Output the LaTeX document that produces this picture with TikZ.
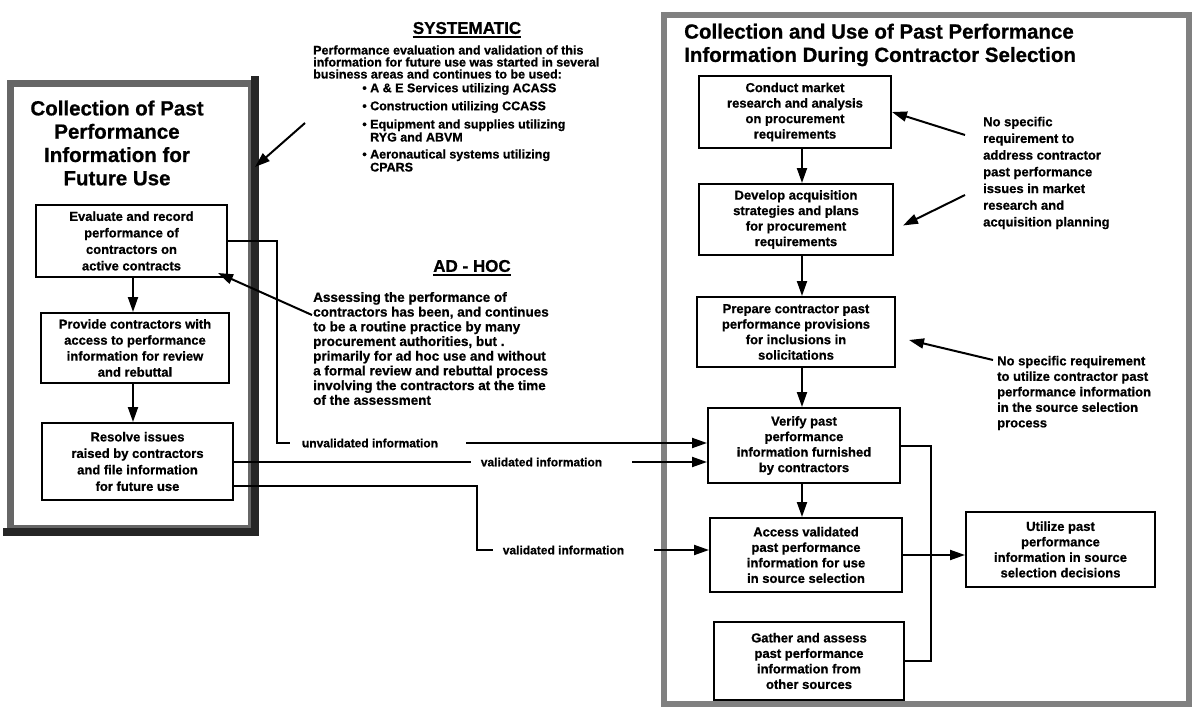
\documentclass[tikz,border=0pt]{standalone}
\usepackage{fontspec}
\setmainfont{Liberation Sans}[BoldFeatures={FakeBold=0.8}]
\usetikzlibrary{arrows.meta,calc}

\begin{document}
\begin{tikzpicture}[x=1pt,y=-1pt,
  every node/.style={font=\bfseries},
  box/.style={draw, line width=2pt, align=center, inner sep=0pt,
    font=\fontsize{13}{15.5}\selectfont\bfseries},
  flow/.style={line width=2pt, -{Triangle[length=15pt,width=10pt]}},
  link/.style={line width=2pt},
  lbl/.style={inner sep=0pt, font=\fontsize{12}{14}\selectfont\bfseries},
  note/.style={align=left, inner sep=0pt},
  ttl/.style={inner sep=0pt, font=\fontsize{20.5}{23.3}\selectfont\bfseries},
  head/.style={inner sep=0pt, font=\fontsize{17}{20}\selectfont\bfseries},
  ulin/.style={line width=1.8pt}
]
\useasboundingbox (0,0) rectangle (1195,709);

% ---------- panel frames ----------
\node[draw=black!60, line width=7pt, minimum width=241pt, minimum height=445pt, inner sep=0pt] (lf) at (131,306) {};
\draw[black!85, line width=8pt, line cap=rect] (lf.north east) -- (lf.south east) -- (lf.south west);
\node[draw=black!50, line width=6pt, minimum width=525pt, minimum height=688pt, inner sep=0pt] (rf) at (926,359.5) {};

% ---------- left panel ----------
\node[ttl, align=center] (lt) at (117,143) {Collection of Past\\Performance\\Information for\\Future Use};
\node[box, minimum width=191pt, minimum height=72pt, font=\fontsize{13}{16.5}\selectfont\bfseries] (b1) at (131.5,241)
  {Evaluate and record\\performance of\\contractors on\\active contracts};
\node[box, minimum width=188pt, minimum height=70pt, font=\fontsize{13}{16}\selectfont\bfseries] (b2) at (135,348)
  {Provide contractors with\\access to performance\\information for review\\and rebuttal};
\node[box, minimum width=191pt, minimum height=77pt, font=\fontsize{13}{16.5}\selectfont\bfseries] (b3) at (137.5,461.5)
  {Resolve issues\\raised by contractors\\and file information\\for future use};
\coordinate (lvx) at (133,0);
\draw[flow] (b1.south -| lvx) -- (b2.north -| lvx);
\draw[flow] (b2.south -| lvx) -- (b3.north -| lvx);

% ---------- systematic note ----------
\node[head] (sys) at (467,28) {SYSTEMATIC};
\draw[ulin] ($(sys.base west)+(0,3.5)$) -- ($(sys.base east)+(0,3.5)$);
\node[note, anchor=west, font=\fontsize{12.5}{12}\selectfont\bfseries] (sysb) at (313,62)
  {Performance evaluation and validation of this\\information for future use was started in several\\business areas and continues to be used:};
\tikzset{bul/.style={note, anchor=west, font=\fontsize{12.5}{13}\selectfont\bfseries}}
\node[bul] (s1) at (370,89)  {\llap{\textbullet\ }A \& E Services utilizing ACASS};
\node[bul] (s2) at (370,107) {\llap{\textbullet\ }Construction utilizing CCASS};
\node[bul] (s3) at (370,130.5) {\llap{\textbullet\ }Equipment and supplies utilizing\\RYG and ABVM};
\node[bul] (s4) at (370,160.5) {\llap{\textbullet\ }Aeronautical systems utilizing\\CPARS};
\coordinate (sa) at (305,123);
\coordinate (sy) at (0,167);
\draw[flow] (sa) -- (lf.east |- sy);

% ---------- ad-hoc note ----------
\node[head] (adh) at (472,266) {AD - HOC};
\draw[ulin] ($(adh.base west)+(0,3.5)$) -- ($(adh.base east)+(0,3.5)$);
\node[note, anchor=west, font=\fontsize{13.5}{14.7}\selectfont\bfseries] (adhb) at (313,348.5)
  {Assessing the performance of\\contractors has been, and continues\\to be a routine practice by many\\procurement authorities, but .\\primarily for ad hoc use and without\\a formal review and rebuttal process\\involving the contractors at the time\\of the assessment};
\coordinate (ha) at (312,315);
\draw[flow] (ha) -- ($(b1.south east)+(-10,-5)$);

% ---------- right panel ----------
\node[ttl, align=left, anchor=west] (rt) at (684,45)
  {Collection and Use of Past Performance\\Information During Contractor Selection};
\node[box, minimum width=192pt, minimum height=72pt] (r1) at (795,112)
  {Conduct market\\research and analysis\\on procurement\\requirements};
\node[box, minimum width=194pt, minimum height=71pt] (r2) at (796,219.5)
  {Develop acquisition\\strategies and plans\\for procurement\\requirements};
\node[box, minimum width=198pt, minimum height=70pt] (r3) at (796,332)
  {Prepare contractor past\\performance provisions\\for inclusions in\\solicitations};
\node[box, minimum width=192pt, minimum height=75pt] (r4) at (804,445.5)
  {Verify past\\performance\\information furnished\\by contractors};
\node[box, minimum width=192pt, minimum height=74pt] (r5) at (806,555)
  {Access validated\\past performance\\information for use\\in source selection};
\node[box, minimum width=190pt, minimum height=78pt] (r6) at (809,661)
  {Gather and assess\\past performance\\information from\\other sources};
\node[box, minimum width=189pt, minimum height=75pt] (r7) at (1060.5,549.5)
  {Utilize past\\performance\\information in source\\selection decisions};

\coordinate (vx) at (802,0);
\draw[flow] (r1.south -| vx) -- (r2.north -| vx);
\draw[flow] (r2.south -| vx) -- (r3.north -| vx);
\draw[flow] (r3.south -| vx) -- (r4.north -| vx);
\draw[flow] (r4.south -| vx) -- (r5.north -| vx);
\draw[flow] (r5.east) -- (r7.west |- r5.east);
\draw[link] (r4.east) -- ++(30,0) |- (r6.east);

% ---------- notes on the right ----------
\node[note, anchor=west, font=\fontsize{13}{16.7}\selectfont\bfseries] (n1) at (983,173)
  {No specific\\requirement to\\address contractor\\past performance\\issues in market\\research and\\acquisition planning};
\coordinate (a1t) at (965,135);
\coordinate (a2t) at (965,195);
\draw[flow] (a1t) -- (r1.east);
\draw[flow] (a2t) -- ($(r2.east)+(9,6)$);
\node[note, anchor=west, font=\fontsize{13}{15.5}\selectfont\bfseries] (n2) at (997,393)
  {No specific requirement\\to utilize contractor past\\performance information\\in the source selection\\process};
\coordinate (a3t) at (993,360);
\draw[flow] (a3t) -- ($(r3.east)+(13,8)$);

% ---------- information passed between the panels ----------
\node[lbl] (ul) at (370,443) {unvalidated information};
\draw[link] (b1.east) -| ($(ul.west)+(-25,0)$) -- ($(ul.west)+(-12,0)$);
\draw[flow] ($(ul.east)+(28,0)$) -- (r4.west |- ul);

\node[lbl] (v1) at (541.5,462) {validated information};
\draw[link] (b3.east |- v1) -- ($(v1.west)+(-10,0)$);
\draw[flow] ($(v1.east)+(30,0)$) -- (r4.west |- v1);

\node[lbl] (v2) at (563.5,550) {validated information};
\coordinate (c3y) at (0,486);
\draw[link] (b3.east |- c3y) -| ($(v2.west)+(-26,0)$) -- ($(v2.west)+(-10,0)$);
\draw[flow] ($(v2.east)+(30,0)$) -- (r5.west |- v2);
\end{tikzpicture}
\end{document}
